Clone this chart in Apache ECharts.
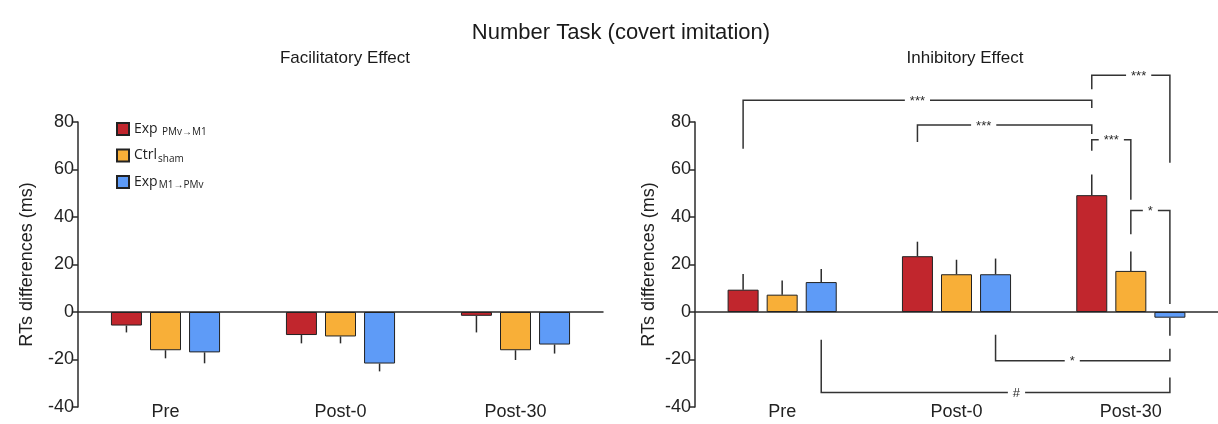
<!DOCTYPE html>
<html>
<head>
<meta charset="utf-8">
<script src="https://cdn.jsdelivr.net/npm/echarts@6/dist/echarts.min.js"></script>
<style>
  html, body { margin: 0; padding: 0; background: #fff; }
  #chart { width: 1218px; height: 424px; }
</style>
</head>
<body>
<div id="chart"></div>
<script>
// Sessions on the x axis
const sessions = ['Pre', 'Post-0', 'Post-30'];

// Groups (legend order)
const groupNames = ['Exp PMv→M1', 'Ctrl sham', 'Exp M1→PMv'];
const groupLegend = ['{m|Exp} {s|PMv→M1}', '{m|Ctrl}{s|sham}', '{m|Exp}{s|M1→PMv}'];
const groupColors = ['#c1262d', '#f8af38', '#5e9bf7'];

// Facilitatory effect: mean RT differences (ms) and standard errors
const faciExpPM = [-5.7, -9.7, -1.6];
const faciCtrl = [-16.1, -10.3, -16.1];
const faciExpM1 = [-17.0, -21.7, -13.7];
const faciExpPMErr = [2.9, 3.5, 7.0];
const faciCtrlErr = [3.4, 2.9, 4.1];
const faciExpM1Err = [4.6, 3.3, 3.8];

// Inhibitory effect: mean RT differences (ms) and standard errors
const inhiExpPM = [9.4, 23.5, 49.2];
const inhiCtrl = [7.3, 15.9, 17.3];
const inhiExpM1 = [12.6, 15.9, -2.4];
const inhiExpPMErr = [6.6, 6.1, 8.7];
const inhiCtrlErr = [6.0, 6.1, 8.2];
const inhiExpM1Err = [5.5, 6.6, 7.6];

// Y axis ticks
const yMin = -40, yMax = 80, yStep = 20;

// Significance brackets on the inhibitory panel:
// [session A, group A, leg end A, session B, group B, leg end B, bracket level, label position (0..1), label]
const brackets = [
  [0, 0, 68.7, 2, 0, 85.9, 89.2, 0.5, '***'],
  [1, 0, 71.6, 2, 0, 75.0, 78.7, 0.38, '***'],
  [2, 0, 93.8, 2, 2, 62.8, 99.7, 0.6, '***'],
  [2, 0, 67.9, 2, 1, 47.3, 72.5, 0.5, '***'],
  [2, 1, 32.7, 2, 2, 3.4, 42.7, 0.5, '*'],
  [1, 2, -9.6, 2, 2, -15.5, -20.5, 0.44, '*'],
  [0, 2, -11.7, 2, 2, -27.6, -33.9, 0.56, '#']
];

const BAR_W = 31;
const BAR_GAP = 0.26;
const BAR_STEP = BAR_W * (1 + BAR_GAP);
const INK = '#2b2b2b';
const FONT = 'Liberation Sans, Arial, sans-serif';

const chart = echarts.init(document.getElementById('chart'), null, { renderer: 'canvas' });

function barSeries(name, values, color, xi, yi) {
  return {
    type: 'bar', name: name, data: values,
    xAxisIndex: xi, yAxisIndex: yi,
    barWidth: BAR_W, barGap: (BAR_GAP * 100) + '%',
    itemStyle: { color: color, borderColor: '#222', borderWidth: 1 },
    emphasis: { disabled: true },
    z: 3
  };
}

function errorSeries(means, errs, xi, yi) {
  const data = [];
  means.forEach(function (m, g) {
    m.forEach(function (v, c) { data.push([c, v, errs[g][c], g]); });
  });
  return {
    type: 'custom', xAxisIndex: xi, yAxisIndex: yi, data: data, z: 2, silent: true,
    renderItem: function (params, api) {
      const v = api.value(1);
      const end = v + (v < 0 ? -1 : 1) * api.value(2);
      const a = api.coord([api.value(0), v]);
      const b = api.coord([api.value(0), end]);
      const x = a[0] + (api.value(3) - 1) * BAR_STEP;
      return {
        type: 'line',
        shape: { x1: x, y1: a[1], x2: x, y2: b[1] },
        style: { stroke: INK, lineWidth: 1.5 }
      };
    }
  };
}

function bracketSeries(xi, yi) {
  return {
    type: 'custom', xAxisIndex: xi, yAxisIndex: yi, clip: false, silent: true, z: 4,
    data: brackets.map(function (b) { return [b[0], b[6]]; }),
    renderItem: function (params, api) {
      const b = brackets[params.dataIndex];
      const pA = api.coord([b[0], b[2]]);
      const pB = api.coord([b[3], b[5]]);
      const lvl = api.coord([b[0], b[6]])[1];
      const xA = pA[0] + (b[1] - 1) * BAR_STEP;
      const xB = pB[0] + (b[4] - 1) * BAR_STEP;
      return {
        type: 'group',
        children: [
          {
            type: 'polyline',
            shape: { points: [[xA, pA[1]], [xA, lvl], [xB, lvl], [xB, pB[1]]] },
            style: { stroke: '#333', lineWidth: 1.5, fill: null }
          },
          {
            type: 'text',
            x: xA + (xB - xA) * b[7], y: lvl + 1,
            style: {
              text: b[8], fill: INK, font: '13px ' + FONT,
              align: 'center', verticalAlign: 'middle',
              backgroundColor: '#fff', padding: [1, 5]
            }
          }
        ]
      };
    }
  };
}

const yAxisBase = {
  type: 'value', min: yMin, max: yMax, interval: yStep,
  name: 'RTs differences (ms)', nameLocation: 'middle',
  nameTextStyle: { fontSize: 18, color: '#222', fontFamily: FONT },
  axisLine: { show: true, lineStyle: { color: INK, width: 1.5 } },
  axisTick: { show: true, length: 5, lineStyle: { color: INK, width: 1.5 } },
  axisLabel: { fontSize: 18, color: '#222', fontFamily: FONT, margin: 4 },
  splitLine: { show: false }
};

function zeroAxis(gi) {
  return {
    type: 'category', data: sessions, gridIndex: gi,
    axisLine: { onZero: true, lineStyle: { color: INK, width: 1.5 } },
    axisTick: { show: false }, axisLabel: { show: false }
  };
}
function labelAxis(gi) {
  return {
    type: 'category', data: sessions, gridIndex: gi, position: 'bottom',
    axisLine: { show: false, onZero: false }, axisTick: { show: false },
    axisLabel: { fontSize: 18, color: '#222', fontFamily: FONT, verticalAlign: 'middle', margin: 5 }
  };
}

const option = {
  backgroundColor: '#fff',
  animation: false,
  title: [
    { text: 'Number Task (covert imitation)', left: 616, top: 17, textAlign: 'center',
      textStyle: { fontSize: 22, fontWeight: 'normal', color: '#1a1a1a', fontFamily: FONT } },
    { text: 'Facilitatory Effect', left: 340, top: 45, textAlign: 'center',
      textStyle: { fontSize: 17, fontWeight: 'normal', color: '#1a1a1a', fontFamily: FONT } },
    { text: 'Inhibitory Effect', left: 960, top: 45, textAlign: 'center',
      textStyle: { fontSize: 17, fontWeight: 'normal', color: '#1a1a1a', fontFamily: FONT } }
  ],
  legend: {
    data: groupNames, orient: 'vertical', left: 111, top: 117,
    itemWidth: 12, itemHeight: 12, itemGap: 11, icon: 'rect',
    selectedMode: false,
    formatter: function (name) { return groupLegend[groupNames.indexOf(name)]; },
    textStyle: {
      color: '#222',
      rich: {
        m: { fontSize: 14, fontFamily: 'Open Sans', color: '#222', lineHeight: 16 },
        s: { fontSize: 10, fontFamily: 'Open Sans', color: '#222', padding: [7, 0, 0, 1] }
      }
    }
  },
  grid: [
    { left: 78, right: 615, top: 122, bottom: 17 },
    { left: 695, right: 0, top: 122, bottom: 17 }
  ],
  xAxis: [zeroAxis(0), labelAxis(0), zeroAxis(1), labelAxis(1)],
  yAxis: [
    Object.assign({}, yAxisBase, { gridIndex: 0, nameGap: 42 }),
    Object.assign({}, yAxisBase, { gridIndex: 1, nameGap: 37 })
  ],
  series: [
    barSeries(groupNames[0], faciExpPM, groupColors[0], 0, 0),
    barSeries(groupNames[1], faciCtrl, groupColors[1], 0, 0),
    barSeries(groupNames[2], faciExpM1, groupColors[2], 0, 0),
    errorSeries([faciExpPM, faciCtrl, faciExpM1], [faciExpPMErr, faciCtrlErr, faciExpM1Err], 0, 0),
    barSeries(groupNames[0], inhiExpPM, groupColors[0], 2, 1),
    barSeries(groupNames[1], inhiCtrl, groupColors[1], 2, 1),
    barSeries(groupNames[2], inhiExpM1, groupColors[2], 2, 1),
    errorSeries([inhiExpPM, inhiCtrl, inhiExpM1], [inhiExpPMErr, inhiCtrlErr, inhiExpM1Err], 2, 1),
    bracketSeries(2, 1)
  ]
};

chart.setOption(option);
</script>
</body>
</html>
